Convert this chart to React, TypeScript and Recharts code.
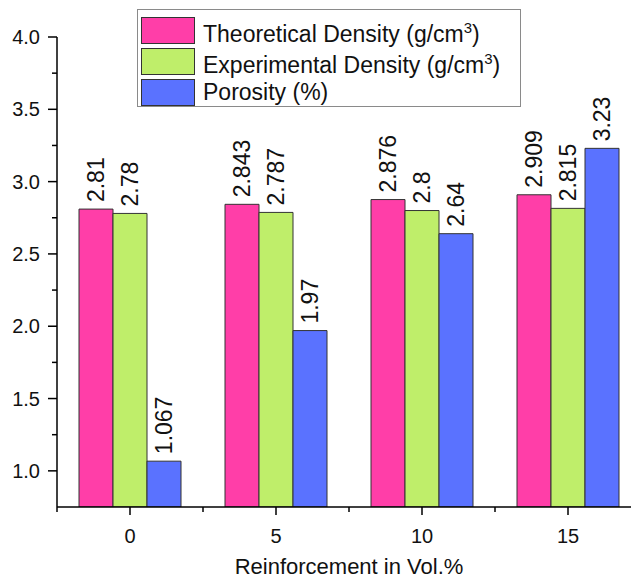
import React from 'react'
import { BarChart, Bar, XAxis, YAxis, LabelList } from 'recharts'

// 数据
const categories = ['0', '5', '10', '15']
const theoretical = [2.81, 2.843, 2.876, 2.909]
const experimental = [2.78, 2.787, 2.8, 2.815]
const porosity = [1.067, 1.97, 2.64, 3.23]
const yTicks = [1.0, 1.25, 1.5, 1.75, 2.0, 2.25, 2.5, 2.75, 3.0, 3.25, 3.5, 3.75, 4.0]

const data = categories.map((c, i) => ({
  cat: c,
  theoretical: theoretical[i],
  experimental: experimental[i],
  porosity: porosity[i]
}))

const FONT = '"Liberation Sans", Arial, sans-serif'

const series = [
  { key: 'theoretical', color: '#FF3EA8', label: <>Theoretical Density (g/cm<sup style={{ fontSize: '0.65em' }}>3</sup>)</> },
  { key: 'experimental', color: '#BFEE6A', label: <>Experimental Density (g/cm<sup style={{ fontSize: '0.65em' }}>3</sup>)</> },
  { key: 'porosity', color: '#5A72FF', label: <>Porosity (%)</> }
]

const HALF_BAND = 73

// Y轴刻度：主刻度带标签，次刻度只画短线
const YTick = (props: any) => {
  const { x, y, payload } = props
  const v = payload.value
  const major = Math.abs(v * 2 - Math.round(v * 2)) < 1e-6
  return (
    <g>
      <line x1={x - (major ? 9 : 5)} x2={x} y1={y} y2={y} stroke="#000" strokeWidth={1.5} />
      {major && (
        <text x={x - 17} y={y} textAnchor="end" dominantBaseline="central" fontSize={20} fontFamily={FONT} fill="#111">
          {v.toFixed(1)}
        </text>
      )}
    </g>
  )
}

// X轴刻度：类别中心主刻度 + 分隔处次刻度
const XTick = (props: any) => {
  const { x, y, payload, index } = props
  return (
    <g>
      <line x1={x} x2={x} y1={y} y2={y + 8} stroke="#000" strokeWidth={1.5} />
      <line x1={x + HALF_BAND} x2={x + HALF_BAND} y1={y} y2={y + 5} stroke="#000" strokeWidth={1.5} />
      {index === 0 && <line x1={x - HALF_BAND} x2={x - HALF_BAND} y1={y} y2={y + 5} stroke="#000" strokeWidth={1.5} />}
      <text x={x} y={y + 29} textAnchor="middle" dominantBaseline="central" fontSize={20} fontFamily={FONT} fill="#111">
        {payload.value}
      </text>
    </g>
  )
}

// 柱顶竖排数值
const BarLabel = (props: any) => {
  const { x, y, width, value } = props
  const cx = x + width / 2
  const cy = y - 7
  return (
    <text x={cx} y={cy} transform={`rotate(-90 ${cx} ${cy})`} textAnchor="start" dominantBaseline="central"
      fontSize={23} fontFamily={FONT} fill="#111">
      {value}
    </text>
  )
}

// 图例（叠加在图表上，不占用绘图区）
const ChartLegend = () => (
  <div style={{
    position: 'absolute', left: 137, top: 9, width: 384, height: 98, boxSizing: 'border-box',
    border: '1px solid #8a8a8a', background: '#fff', paddingTop: 5, fontFamily: FONT, color: '#111'
  }}>
    {series.map(s => (
      <div key={s.key} style={{ display: 'flex', alignItems: 'center', height: 31 }}>
        <span style={{
          display: 'inline-block', width: 54, height: 27, marginLeft: 3, background: s.color,
          border: '1px solid #333', boxSizing: 'border-box'
        }} />
        <span style={{ marginLeft: 8, fontSize: 23, lineHeight: '31px', whiteSpace: 'nowrap' }}>{s.label}</span>
      </div>
    ))}
  </div>
)

export default function App() {
  return (
    <div style={{ position: 'absolute', left: 0, top: 0, width: 631, height: 578, overflow: 'hidden', background: '#fff' }}>
      <BarChart width={660} height={578} data={data} barGap={0} barSize={34}
        margin={{ top: 37, right: 19, left: 0, bottom: 0 }}>
        <XAxis dataKey="cat" height={71} tickSize={0} tickMargin={0} tick={<XTick />} interval={0}
          axisLine={{ stroke: '#000', strokeWidth: 1.5 }}
          label={{ value: 'Reinforcement in Vol.%', position: 'insideBottom', offset: 4, fontSize: 22, fontFamily: FONT, fill: '#111' }} />
        <YAxis width={57} domain={[0.75, 4]} ticks={yTicks} allowDataOverflow tickSize={0} tickMargin={0}
          tick={<YTick />} interval={0} axisLine={{ stroke: '#000', strokeWidth: 1.5 }} />
        {series.map(s => (
          <Bar key={s.key} dataKey={s.key} fill={s.color} stroke="#333" strokeWidth={1} isAnimationActive={false}>
            <LabelList dataKey={s.key} content={<BarLabel />} />
          </Bar>
        ))}
      </BarChart>
      <ChartLegend />
    </div>
  )
}
